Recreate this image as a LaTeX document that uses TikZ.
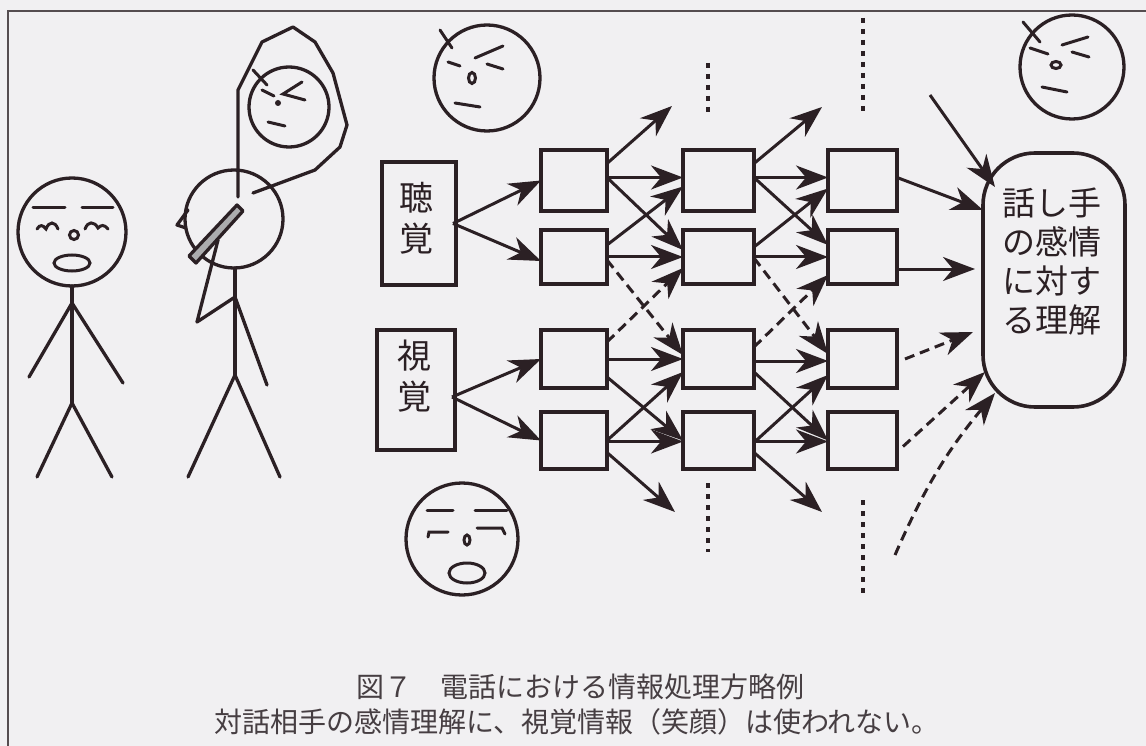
\documentclass[tikz,border=0pt]{standalone}
\usepackage{fontspec}
\newfontfamily\cjk{Noto Sans CJK JP}
\usetikzlibrary{arrows.meta,calc}

\definecolor{ink}{RGB}{43,32,36}
\definecolor{paper}{RGB}{241,240,242}
\definecolor{handset}{RGB}{172,172,174}
\definecolor{capink}{RGB}{70,62,66}

\tikzset{
  ln/.style={draw=ink, line width=3.3pt, line cap=round, line join=round},
  fl/.style={draw=ink, line width=3pt, line cap=round},
  cell/.style={draw=ink, line width=3.6pt, inner sep=0pt, outer sep=0pt},
  arr/.style={draw=ink, line width=3pt, -{Stealth[length=32pt,width=24pt,inset=10pt]}},
  darr/.style={arr, dash pattern=on 10pt off 6pt},
  dotcol/.style={draw=ink, line width=3.2pt, dash pattern=on 5pt off 6pt},
  bigtext/.style={font=\cjk\fontsize{34}{41}\selectfont, text=ink, align=center, inner sep=0pt},
  midtext/.style={font=\cjk\fontsize{33}{39}\selectfont, text=ink, align=center, inner sep=0pt},
  captext/.style={font=\cjk\fontsize{28}{34}\selectfont, text=capink, inner sep=0pt},
}

\begin{document}
\begin{tikzpicture}[x=1pt,y=-1pt]
\useasboundingbox (0,0) rectangle (1146,746);
\fill[paper] (0,0) rectangle (1146,746);
% frame
\draw[draw=ink!80, line width=2pt] (1146,11) -- (8,11) -- (8,746);

% ---------- listener (left stick figure) ----------
\draw[ln] (72,232) circle[radius=54];
\draw[fl] (33,208) -- (65,208);
\draw[fl] (82,208) -- (113,208);
\draw[fl] (37,229) .. controls (40,224) and (43,225) .. (46,229)
               .. controls (49,221) and (55,221) .. (58,229);
\draw[fl] (85,229) .. controls (88,221) and (94,221) .. (98,228)
               .. controls (101,225) and (104,224) .. (108,229);
\draw[fl] (74,235) circle[radius=4.5];
\draw[fl] (72,263) ellipse[x radius=18, y radius=8];
\draw[ln] (72,286) -- (72,403);
\draw[ln] (29,377) -- (72,303) -- (123,383);
\draw[ln] (37,477) -- (72,403) -- (112,477);

% ---------- caller on the phone ----------
\draw[ln] (234,219) circle[radius=49];
\draw[ln] (188,210) -- (177,225) -- (186,228);
\draw[ln] (253,193) -- (315,170) -- (340,147) -- (347,125) -- (333,73)
          -- (315,42) -- (293,27) -- (262,42) -- (238,90) -- (238,197);
\draw[ln, fill=handset] (237,205) -- (243,211) -- (196,263) -- (189,256) -- cycle;
\draw[ln] (218,240) -- (197,322) -- (235,297);
\draw[ln] (235,297) -- (267,385);
\draw[ln] (235,268) -- (235,375);
\draw[ln] (188,477) -- (235,375) -- (280,477);
% face thought of by the caller
\draw[ln] (289,107) circle[radius=40];
\draw[fl] (253,70) -- (267,85);
\draw[fl] (262,90) -- (274,96);
\draw[fl] (302,82) -- (283,94) -- (305,100);
\fill[ink] (278,103) circle[radius=3];
\draw[fl] (268,122) -- (285,126);

% ---------- face above the auditory stream ----------
\draw[ln] (487,78) circle[radius=53];
\draw[fl] (440,30) -- (452,48);
\draw[fl] (448,62) -- (460,66);
\draw[fl] (475,58) -- (503,46);
\draw[fl] (487,64) -- (503,69);
\draw[fl] (472,78) ellipse[x radius=3.5, y radius=5.5];
\draw[fl] (455,103) -- (480,107);

% ---------- face at the top right ----------
\draw[ln] (1072,67) circle[radius=52];
\draw[fl] (1023,22) -- (1040,42);
\draw[fl] (1030,48) -- (1048,54);
\draw[fl] (1062,45) -- (1088,37);
\draw[fl] (1072,52) -- (1089,57);
\draw[fl] (1056,65) ellipse[x radius=5, y radius=3.5];
\draw[fl] (1042,87) -- (1067,92);

% ---------- smiling face below the visual stream ----------
\draw[ln] (462,539) circle[radius=56];
\draw[fl] (427,510) -- (453,510);
\draw[fl] (475,510) -- (507,510);
\draw[fl] (428,537) -- (429,532) -- (448,532);
\draw[fl] (477,528) -- (502,528) -- (505,534);
\draw[fl] (467,540) ellipse[x radius=3, y radius=5];
\draw[fl] (467,573) ellipse[x radius=18, y radius=10];

% ---------- sensory inputs ----------
\node[cell, minimum width=74pt, minimum height=123pt] (hear) at (419,223.5) {};
\node[bigtext] (hearT) at (416,218) {聴\\覚};
\node[cell, minimum width=78pt, minimum height=120pt] (see) at (416,390) {};
\node[bigtext] (seeT) at (414,376) {視\\覚};

% ---------- processing units ----------
\foreach \c/\x/\w in {1/574/66, 2/718.5/71, 3/862.5/69}{
  \node[cell, minimum width=\w pt, minimum height=61pt] (u\c1) at (\x,180.5) {};
  \node[cell, minimum width=\w pt, minimum height=54pt] (u\c2) at (\x,257) {};
  \node[cell, minimum width=\w pt, minimum height=58pt] (u\c3) at (\x,359) {};
  \node[cell, minimum width=\w pt, minimum height=57pt] (u\c4) at (\x,440.5) {};
}

% ---------- understanding of the speaker's emotion ----------
\node[cell, rounded corners=52pt, minimum width=142pt, minimum height=254pt] (goal) at (1054,280) {};
\node[midtext] (goalT) at (1052,262) {話し手\\の感情\\に対す\\る理解};

% free ends
\coordinate (f1) at (672,106);
\coordinate (f2) at (675,512);
\coordinate (f3) at (822,107);
\coordinate (f4) at (822,512);
\coordinate (s1) at (930,95);
\coordinate (s2) at (895,555);

% inputs to first column
\draw[arr] ([xshift=-3pt]hear.east) -- (u11.west);
\draw[arr] ([xshift=-3pt]hear.east) -- ([yshift=-4pt]u12.west);
\draw[arr] ([xshift=-3pt,yshift=-7pt]see.east) -- (u13.west);
\draw[arr] ([xshift=-3pt,yshift=-7pt]see.east) -- (u14.west);

% first column to second column
\draw[arr] ([yshift=17pt]u11.east) -- (f1);
\draw[arr] ([yshift=3pt]u11.east) -- ([yshift=3pt]u21.west);
\draw[arr] ([yshift=3pt]u11.east) -- ([yshift=7pt]u22.west);
\draw[arr] ([yshift=12pt]u12.east) -- ([yshift=-6pt]u21.west);
\draw[arr] (u12.east) -- (u22.west);
\draw[darr] ([yshift=-3pt]u12.east) -- ([yshift=4pt]u23.west);
\draw[darr] ([yshift=17pt]u13.east) -- ([yshift=-11pt]u22.west);
\draw[arr] (u13.east) -- (u23.west);
\draw[arr] ([yshift=-18pt]u13.east) -- (u24.west);
\draw[arr] (u14.east) -- ([yshift=-13pt]u23.west);
\draw[arr] ([yshift=-1pt]u14.east) -- ([yshift=-1pt]u24.west);
\draw[arr] ([yshift=-12pt]u14.east) -- (f2);

% second column to third column
\draw[arr] ([yshift=17pt]u21.east) -- (f3);
\draw[arr] ([yshift=3pt]u21.east) -- ([yshift=3pt]u31.west);
\draw[arr] ([yshift=3pt]u21.east) -- ([yshift=12pt]u32.west);
\draw[arr] ([yshift=10pt]u22.east) -- ([yshift=-8pt]u31.west);
\draw[arr] (u22.east) -- (u32.west);
\draw[darr] ([yshift=-1pt]u22.east) -- ([yshift=5pt]u33.west);
\draw[darr] ([yshift=12pt]u23.east) -- ([yshift=-18pt]u32.west);
\draw[arr] ([yshift=-2pt]u23.east) -- ([yshift=-2pt]u33.west);
\draw[arr] ([yshift=-13pt]u23.east) -- (u34.west);
\draw[arr] ([yshift=-2pt]u24.east) -- ([yshift=-16pt]u33.west);
\draw[arr] ([yshift=-1pt]u24.east) -- ([yshift=-1pt]u34.west);
\draw[arr] ([yshift=-12pt]u24.east) -- (f4);

% third column to the understanding
\draw[arr] ([yshift=3pt]u31.east) -- ([yshift=70pt]goal.west);
\draw[arr] ([yshift=-12pt]u32.east) -- ([xshift=-8pt,yshift=11pt]goal.west);
\draw[darr] ([xshift=8pt]u33.east) -- ([xshift=-10pt,yshift=-52pt]goal.west);
\draw[darr] ([xshift=6pt,yshift=-6pt]u34.east) -- ([xshift=2pt,yshift=-92pt]goal.west);
\draw[darr] (s2) to[bend left=8] ([xshift=12pt,yshift=-113pt]goal.west);
\draw[arr] (s1) -- ([xshift=12pt,yshift=93pt]goal.west);

% further units not shown
\draw[dotcol] (708,63) -- (708,115);
\draw[dotcol] (708,483) -- (708,552);
\draw[dotcol] (863,18) -- (863,115);
\draw[dotcol] (863,500) -- (863,597);

% caption
\node[captext] (cap1) at (580,687) {図７　電話における情報処理方略例};
\node[captext] (cap2) at (577,722) {対話相手の感情理解に、視覚情報（笑顔）は使われない。};
\end{tikzpicture}
\end{document}
